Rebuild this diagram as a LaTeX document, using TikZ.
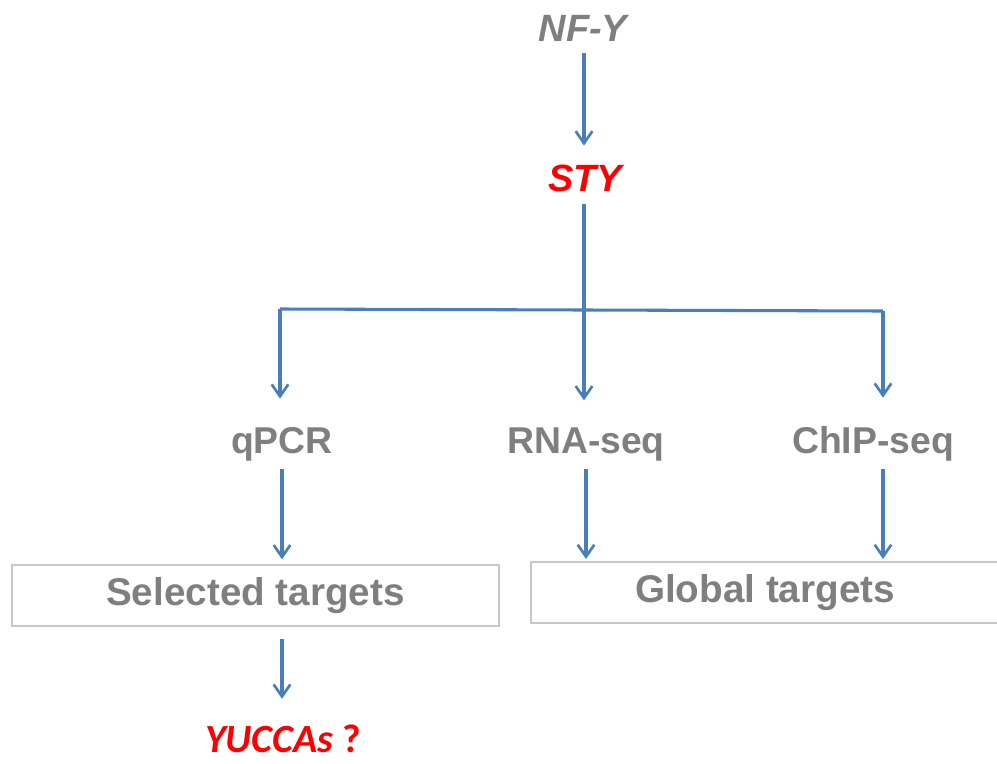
\documentclass[tikz,border=0pt]{standalone}
\usepackage{fontspec}
\setmainfont{Liberation Sans}
\newfontfamily\calibfont{Carlito}
\usetikzlibrary{arrows.meta}
\definecolor{txtgray}{HTML}{7F7F7F}
\definecolor{flowblue}{HTML}{4A7EBB}
\definecolor{boxgray}{HTML}{C8C8C8}
\begin{document}
\begin{tikzpicture}[x=0.75pt,y=-0.75pt,
  arr/.style={draw=flowblue, line width=2.3pt,
    -{Straight Barb[length=9pt,width=12.5pt,line width=2pt]}},
  link/.style={draw=flowblue, line width=2.3pt},
  gene/.style={inner sep=0pt, anchor=base,
    font=\fontsize{28.5}{30}\selectfont\bfseries\itshape},
  method/.style={inner sep=0pt, anchor=base, text=txtgray,
    font=\fontsize{28}{30}\selectfont\bfseries},
  targetbox/.style={draw=boxgray, line width=1.5pt, minimum height=45.75pt,
    inner sep=0pt, text=txtgray, font=\fontsize{29}{31}\selectfont\bfseries}]
\useasboundingbox (0,0) rectangle (997,764);

% regulators
\node[gene, text=txtgray] (nfy) at (583,41) {NF-Y};
\node[gene, text=red] (sty) at (585,191) {STY};

% fork of the tree
\coordinate (fork) at (584,310);
\coordinate (fl) at (280,309);
\coordinate (fr) at (883,311);

% methods
\node[method] (qpcr) at (282,453) {qPCR};
\node[method] (rna) at (586,453) {RNA-seq};
\node[method] (chip) at (873,453) {ChIP-seq};

% target boxes
\node[targetbox, minimum width=365.25pt] (sel) at (255.5,595.5) {Selected targets};
\node[targetbox, minimum width=351pt] (glob) at (765,592.5) {Global targets};

% candidate genes
\node[inner sep=0pt, anchor=base, text=red,
  font=\calibfont\fontsize{30}{32}\selectfont\bfseries] (yuc) at (283,752)
  {{\itshape YUCCAs} ?};

% connectors
\draw[arr, shorten <=9pt, shorten >=14pt] (nfy.south -| fork) -- (fork |- sty.north);
\draw[link, shorten <=9pt] (sty.south -| fork) -- (fork);
\draw[link] (fl) -- (fork) -- (fr);
\draw[arr, shorten >=21pt] (fl) -- (fl |- qpcr.north);
\draw[arr, shorten >=20pt] (fork) -- (fork |- rna.north);
\draw[arr, shorten >=21pt] (fr) -- (fr |- chip.north);
\draw[arr, shorten <=6pt, shorten >=3.5pt] (qpcr.south) -- (qpcr.south |- sel.north);
\draw[arr, shorten <=6pt, shorten >=1.5pt] (rna.south) -- (rna.south |- glob.north);
\draw[arr, shorten <=6pt, shorten >=1.5pt] (fr |- chip.south) -- (fr |- glob.north);
\draw[arr, shorten <=9pt, shorten >=19pt] (qpcr |- sel.south) -- (qpcr |- yuc.north);
\end{tikzpicture}
\end{document}
